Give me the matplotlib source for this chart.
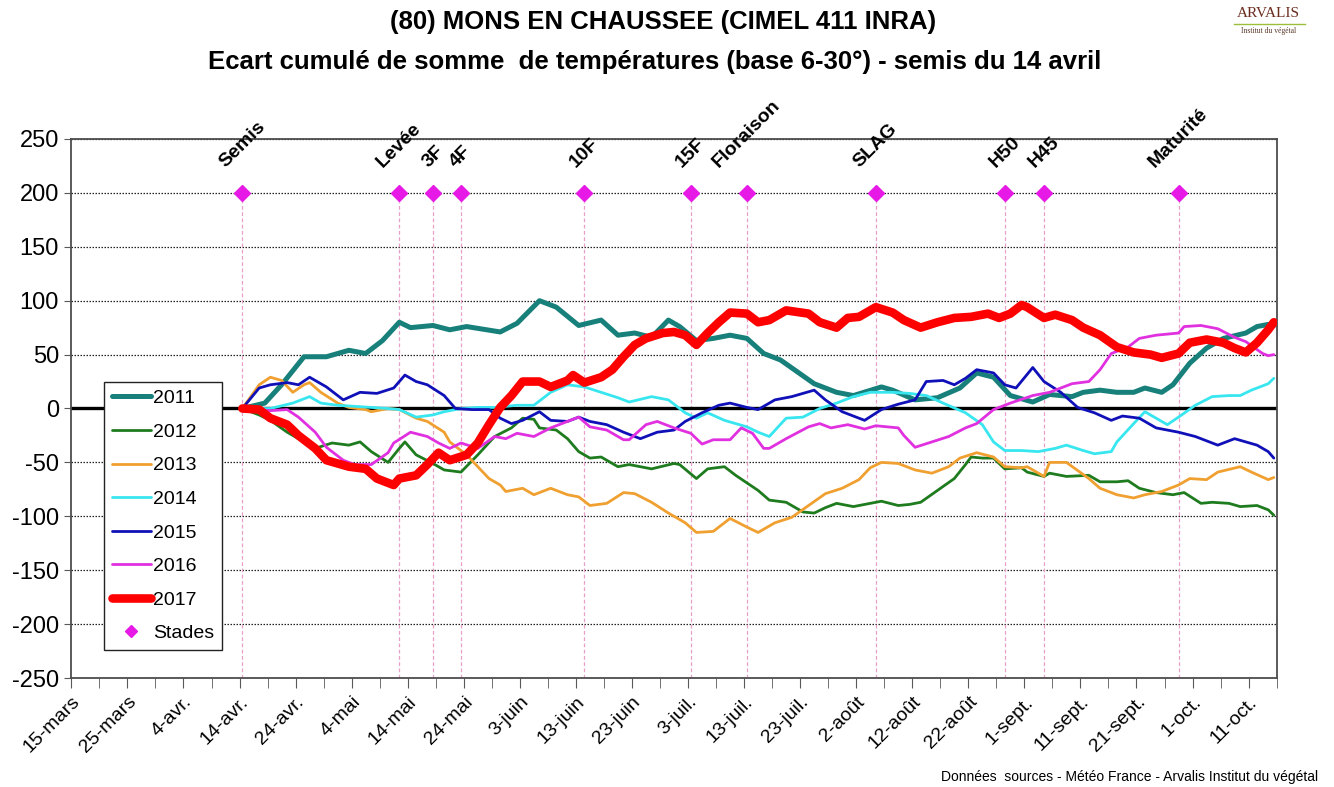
"""Ecart cumule de somme de temperatures - Mons en Chaussee."""

import matplotlib

# Backend sans ecran.
matplotlib.use("Agg")

import matplotlib.pyplot as plt
from matplotlib.lines import Line2D
from matplotlib.ticker import FixedLocator, MultipleLocator

plt.rcParams["font.family"] = ["Liberation Sans", "DejaVu Sans"]
# Excel affiche un simple tiret pour les valeurs negatives.
plt.rcParams["axes.unicode_minus"] = False

# Jours comptes depuis le 15 mars, ecarts.
jours_2011 = [30, 34, 37, 41, 45, 49, 52, 55, 58, 60, 64, 67, 70, 76, 79, 83, 86, 90, 94, 97,
              100, 103, 106, 108, 111, 114, 117, 120, 123, 126, 129, 132, 136, 139, 144, 146,
              150, 154, 158, 161, 164, 167, 171, 174, 178, 180, 183, 186, 189, 191, 194, 196,
              199, 202, 205, 209, 211, 213, 214]
ecart_2011 = [0, 5, 22, 48, 48, 54, 51, 63, 80, 75, 77, 73, 76, 71, 79, 100, 94, 77, 82, 68,
              70, 66, 82, 76, 63, 65, 68, 65, 51, 45, 34, 23, 15, 12, 20, 17,
              8, 10, 19, 33, 29, 12, 6, 13, 11, 15, 17, 15, 15, 19, 15, 22,
              42, 56, 65, 70, 76, 78, 77]

jours_2012 = [30, 33, 35, 38, 41, 43, 46, 49, 51, 53, 56, 58, 59, 61, 64, 66, 69, 72, 75, 78,
              80, 82, 83, 86, 88, 90, 92, 94, 97, 99, 103, 107, 108, 111, 113, 116, 118, 122,
              124, 127, 130, 132, 134, 136, 139, 142, 144, 147, 149, 151, 154, 157, 159, 160,
              162, 164, 166, 169, 170, 173, 174, 177, 181, 183, 186, 188, 190, 193, 196, 198,
              201, 203, 206, 208, 211, 213, 214]
ecart_2012 = [0, -6, -11, -22, -31, -37, -32, -34, -31, -40, -50, -37, -31, -43, -51, -57, -59, -43, -26, -18,
              -9, -10, -18, -20, -28, -40, -46, -45, -54, -52, -56, -51, -52, -65, -56, -54, -62, -76,
              -85, -87, -96, -97, -92, -88, -91, -88, -86, -90, -89, -87, -76, -65, -52, -45,
              -46, -46, -56, -55, -59, -63, -60, -63, -62, -68, -68, -67, -74, -78, -80, -78,
              -88, -87, -88, -91, -90, -94, -99]

jours_2013 = [30, 33, 35, 37, 39, 41, 42, 44, 47, 49, 52, 53, 56, 58, 61, 63, 66, 67, 70, 72,
              74, 76, 77, 80, 82, 85, 88, 90, 92, 95, 98, 100, 103, 106, 109, 111, 114, 117,
              120, 122, 125, 128, 131, 134, 137, 140, 142, 144, 147, 150, 153, 156, 158, 161,
              164, 166, 169, 170, 173, 174, 177, 181, 183, 186, 189, 191, 194, 197, 199, 202,
              204, 208, 210, 213, 214]
ecart_2013 = [0, 22, 29, 26, 15, 22, 24, 15, 5, 1, -1, -3, 0, -1, -9, -12, -22, -31, -43, -54,
              -65, -71, -77, -74, -80, -74, -80, -82, -90, -88, -78, -79, -87, -97, -106, -115, -114, -102,
              -110, -115, -106, -101, -90, -79, -74, -66, -55, -50, -51, -57, -60, -54, -46, -41,
              -45, -54, -55, -54, -63, -50, -50, -65, -74, -80, -83, -80, -77, -71, -65, -66,
              -59, -54, -59, -66, -64]

jours_2014 = [30, 35, 39, 42, 44, 47, 50, 53, 56, 58, 61, 64, 66, 69, 72, 75, 79, 82, 85, 88,
              91, 94, 97, 99, 103, 106, 109, 111, 113, 116, 120, 122, 124, 127, 130, 133, 136,
              139, 142, 146, 149, 152, 155, 159, 162, 164, 166, 169, 172, 175, 177, 180, 182,
              185, 186, 189, 191, 193, 195, 197, 200, 203, 206, 208, 210, 213, 214]
ecart_2014 = [0, 0, 5, 11, 5, 3, 2, 1, 0, -1, -8, -6, -3, 0, 1, 1, 3, 3, 15, 22,
              20, 15, 10, 6, 11, 8, -4, -9, -4, -11, -17, -22, -26, -9, -8, 0, 5,
              11, 15, 15, 14, 12, 5, -4, -15, -31, -39, -39, -40, -37, -34, -39, -42,
              -40, -31, -14, -3, -9, -15, -8, 3, 11, 12, 12, 17, 23, 28]

jours_2015 = [30, 33, 35, 38, 40, 42, 45, 48, 51, 54, 57, 59, 61, 63, 66, 68, 71, 74, 76, 78,
              80, 83, 85, 88, 90, 92, 95, 98, 101, 104, 107, 109, 112, 115, 117, 120, 122, 125,
              128, 132, 134, 137, 141, 144, 147, 150, 152, 155, 157, 159, 161, 164, 166, 168,
              171, 173, 176, 179, 182, 185, 187, 190, 193, 197, 200, 204, 207, 209, 211, 213, 214]
ecart_2015 = [0, 19, 22, 24, 22, 29, 20, 8, 15, 14, 19, 31, 25, 22, 12, 0, -1, -1, -9, -14,
              -11, -3, -11, -12, -8, -12, -15, -22, -28, -22, -20, -12, -4, 3, 5, 1, -1, 8,
              11, 17, 8, -3, -11, -1, 4, 8, 25, 26, 22, 28, 36, 33, 22, 19,
              38, 25, 15, 1, -4, -11, -7, -9, -18, -22, -26, -34, -28, -31, -34, -40, -46]

jours_2016 = [30, 35, 38, 40, 43, 45, 48, 50, 53, 56, 57, 60, 63, 65, 67, 69, 72, 75, 77, 79,
              82, 85, 88, 90, 92, 95, 98, 99, 102, 104, 107, 110, 112, 114, 117, 119, 121, 123,
              124, 127, 131, 133, 135, 138, 141, 143, 147, 148, 150, 153, 156, 159, 161, 164,
              167, 171, 174, 178, 181, 183, 185, 188, 190, 193, 197, 198, 201, 204, 207, 209,
              212, 213, 214]
ecart_2016 = [0, -2, -1, -8, -22, -36, -48, -52, -52, -41, -32, -22, -26, -32, -37, -32, -37, -26, -28, -23,
              -26, -18, -12, -8, -17, -20, -29, -29, -15, -12, -18, -23, -33, -29, -29, -18, -23, -37,
              -37, -28, -17, -14, -18, -15, -19, -16, -18, -25, -36, -31, -26, -18, -14, -1,
              5, 12, 15, 23, 25, 36, 51, 57, 65, 68, 70, 76, 77, 74, 66, 62,
              51, 49, 50]

jours_2017 = [30, 33, 35, 38, 40, 43, 45, 47, 49, 52, 54, 57, 58, 61, 63, 65, 67, 70, 72, 74,
              76, 78, 80, 83, 85, 88, 89, 91, 94, 96, 98, 100, 102, 105, 107, 109, 111, 113,
              115, 117, 120, 122, 124, 127, 131, 133, 136, 138, 140, 143, 146, 148, 151, 154,
              157, 160, 163, 165, 167, 169, 170, 173, 175, 178, 180, 183, 186, 189, 192, 194,
              197, 199, 202, 205, 207, 209, 211, 213, 214]
ecart_2017 = [0, -1, -9, -15, -25, -37, -48, -51, -54, -56, -65, -71, -65, -62, -52, -41, -48, -43, -32, -15,
              1, 12, 25, 25, 20, 26, 31, 24, 29, 36, 48, 59, 65, 70, 71, 68, 59, 70,
              80, 89, 88, 80, 82, 91, 88, 80, 75, 84, 85, 94, 89, 82, 75, 80,
              84, 85, 88, 84, 88, 96, 94, 84, 87, 82, 75, 68, 57, 52, 50, 47,
              51, 61, 64, 61, 56, 52, 61, 73, 80]

annees = ["2011", "2012", "2013", "2014", "2015", "2016", "2017"]
couleurs = ["#17807a", "#1e7b1e", "#f0a030", "#38e6f0", "#1010b8", "#e030e0", "#ff0000"]
epaisseurs = [3.6, 2.0, 2.0, 2.0, 2.0, 2.0, 6.2]

# Stades de la culture (jours depuis le 15 mars).
noms_stades = ["Semis", "Levée", "3F", "4F", "10F", "15F", "Floraison", "SLAG", "H50", "H45", "Maturité"]
jours_stades = [30, 58, 64, 69, 91, 110, 120, 143, 166, 173, 197]
niveau_stades = 200

# Graduations de l'axe des dates (tous les 10 jours).
jours_graduations = [0, 10, 20, 30, 40, 50, 60, 70, 80, 90, 100, 110, 120, 130, 140, 150,
                     160, 170, 180, 190, 200, 210]
etiquettes_dates = ["15-mars", "25-mars", "4-avr.", "14-avr.", "24-avr.", "4-mai", "14-mai",
                    "24-mai", "3-juin", "13-juin", "23-juin", "3-juil.", "13-juil.", "23-juil.",
                    "2-août", "12-août", "22-août", "1-sept.", "11-sept.", "21-sept.", "1-oct.",
                    "11-oct."]

fig = plt.figure(figsize=(13.34, 7.87), dpi=100)
ax = fig.add_axes([0.0535, 0.1385, 0.9035, 0.6849])

# Les points sont centres dans la case du jour, comme dans Excel.
decalage = 0.5

# Grille horizontale pointillee.
for valeur in range(-250, 251, 50):
    if valeur != 0:
        ax.axhline(valeur, color="#222222", linestyle=(0, (1.2, 1.2)), linewidth=0.9, zorder=1)
ax.axhline(0, color="black", linewidth=2.4, zorder=2)

# Lignes verticales des stades.
for jour in jours_stades:
    ax.plot([jour + decalage, jour + decalage], [-250, niveau_stades], color="#e8a0c8",
            linestyle=(0, (3, 2)), linewidth=0.9, zorder=1.5)

series = [
    (jours_2011, ecart_2011), (jours_2012, ecart_2012), (jours_2013, ecart_2013),
    (jours_2014, ecart_2014), (jours_2015, ecart_2015), (jours_2016, ecart_2016),
    (jours_2017, ecart_2017),
]
for (jours, ecarts), annee, couleur, epaisseur in zip(series, annees, couleurs, epaisseurs):
    ax.plot([j + decalage for j in jours], ecarts, color=couleur, linewidth=epaisseur,
            solid_joinstyle="round", solid_capstyle="round", label=annee, zorder=3)

ax.plot([j + decalage for j in jours_stades], [niveau_stades] * len(jours_stades),
        linestyle="none", marker="D", markersize=8.5, color="#e619e6", zorder=5, label="Stades")

# Etiquettes des stades au-dessus des losanges.
for nom, jour in zip(noms_stades, jours_stades):
    ax.text(jour + decalage, 220, nom, rotation=45, ha="center", va="bottom",
            fontsize=14, fontweight="bold", clip_on=False, zorder=6)

ax.set_xlim(0, 215)
ax.set_ylim(-250, 250)
ax.yaxis.set_major_locator(MultipleLocator(50))
ax.xaxis.set_major_locator(FixedLocator(jours_graduations))
ax.xaxis.set_minor_locator(MultipleLocator(5))
ax.set_xticklabels(etiquettes_dates, rotation=45, ha="right", rotation_mode="anchor", fontsize=14)
ax.tick_params(axis="y", labelsize=17, length=5, color="#595959", pad=4)
ax.tick_params(axis="x", which="both", length=7, color="#595959", pad=4)

for cote in ["left", "bottom", "top", "right"]:
    ax.spines[cote].set_color("#4d4d4d")
    ax.spines[cote].set_linewidth(1.3)

leg = ax.legend(loc="lower left", bbox_to_anchor=(0.027, 0.052), borderaxespad=0, fontsize=14,
                frameon=True, fancybox=False, edgecolor="#222222", framealpha=1,
                handlelength=2.0, handletextpad=0.15, labelspacing=0.82, borderpad=0.4,
                markerscale=0.75)
leg.get_frame().set_linewidth(1.0)
leg.set_zorder(10)

# Titres.
fig.text(0.497, 0.972, "(80) MONS EN CHAUSSEE (CIMEL 411 INRA)", ha="center", va="center",
         fontsize=18.5, fontweight="bold")
fig.text(0.491, 0.921, "Ecart cumulé de somme  de températures (base 6-30°) - semis du 14 avril",
         ha="center", va="center", fontsize=18.5, fontweight="bold")

# Logo Arvalis simplifie.
fig.text(0.951, 0.983, "ARVALIS", ha="center", va="center", fontsize=11,
         family=["Liberation Serif", "DejaVu Serif"], color="#6b2d1f")
fig.add_artist(Line2D([0.925, 0.978], [0.970, 0.970], color="#9bbf3b", linewidth=1.0))
fig.text(0.951, 0.960, "Institut du végétal", ha="center", va="center", fontsize=5.5,
         family=["Liberation Serif", "DejaVu Serif"], color="#5a3a2a")

# Source.
fig.text(0.988, 0.013, "Données  sources - Météo France - Arvalis Institut du végétal",
         ha="right", va="center", fontsize=10)

fig.savefig("out.png", dpi=100)
plt.close(fig)
